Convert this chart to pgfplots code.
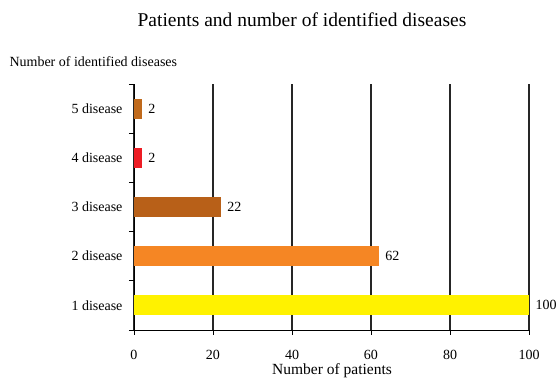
\documentclass[border=0pt]{standalone}
\usepackage{fontspec}
\setmainfont{Liberation Serif}
\usepackage{pgfplots}
\pgfplotsset{compat=1.18}

\definecolor{oneDisease}{HTML}{FFF200}
\definecolor{twoDisease}{HTML}{F58624}
\definecolor{threeDisease}{HTML}{B86018}
\definecolor{fourDisease}{HTML}{ED1C24}
\definecolor{fiveDisease}{HTML}{C06A1C}

\begin{document}
\begin{tikzpicture}[x=1pt,y=1pt]
\path[use as bounding box] (0,0) rectangle (558,380);
\begin{axis}[
  at={(134pt,50pt)}, anchor=south west,
  scale only axis, width=395pt, height=246pt,
  xbar, bar width=20pt, bar shift=0pt,
  xmin=0, xmax=100, ymin=0.5, ymax=5.5,
  axis x line*=bottom, axis y line*=left,
  axis line style={black, line width=0.9pt},
  xtick={0,20,...,100},
  ytick={0.5,1.5,...,5.5},
  yticklabels={},
  extra y ticks={1,2,3,4,5},
  extra y tick labels={1 disease,2 disease,3 disease,4 disease,5 disease},
  extra y tick style={major tick length=0pt},
  tick align=outside,
  major tick length=5pt,
  tick style={black, line width=0.9pt},
  xmajorgrids,
  major x grid style={black!85, line width=1.1pt},
  /pgf/number format/assume math mode=true,
  tick label style={font=\fontsize{14}{14}\selectfont},
  xticklabel style={yshift=-12pt},
  yticklabel style={xshift=-8pt},
  nodes near coords,
  point meta=x,
  every node near coord/.append style={font=\fontsize{14}{14}\selectfont, black, xshift=3pt},
  clip=false,
]
\addplot[draw=none, fill=oneDisease]   coordinates {(100,1)};
\addplot[draw=none, fill=twoDisease]   coordinates {(62,2)};
\addplot[draw=none, fill=threeDisease] coordinates {(22,3)};
\addplot[draw=none, fill=fourDisease]  coordinates {(2,4)};
\addplot[draw=none, fill=fiveDisease]  coordinates {(2,5)};
\end{axis}
\node[font=\fontsize{19.5}{19.5}\selectfont] at (302,360) {Patients and number of identified diseases};
\node[anchor=west, font=\fontsize{14}{14}\selectfont] at (6,318) {Number of identified diseases};
\node[anchor=base, inner sep=0pt, font=\fontsize{15.5}{15.5}\selectfont] at (332,5) {Number of patients};
\end{tikzpicture}
\end{document}
